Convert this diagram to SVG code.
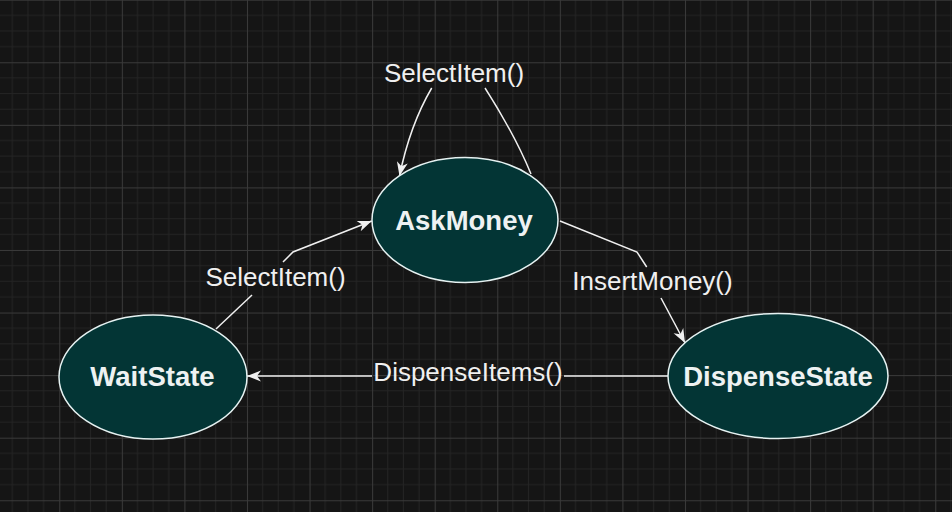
<svg xmlns="http://www.w3.org/2000/svg" width="952" height="512" viewBox="0 0 952 512">
<defs>
<pattern id="grid" patternUnits="userSpaceOnUse" x="-3.3" y="-0.3" width="62.57" height="62.57">
<path d="M15.64,0V62.57M31.28,0V62.57M46.93,0V62.57M0,15.64H62.57M0,31.28H62.57M0,46.93H62.57" stroke="#242424" stroke-width="1" fill="none"/>
<path d="M0.5,0V62.57M0,0.5H62.57" stroke="#3a3a3a" stroke-width="1" fill="none"/>
</pattern>
<marker id="arr" markerUnits="userSpaceOnUse" markerWidth="15" markerHeight="12" refX="14" refY="6" orient="auto" viewBox="0 0 15 12">
<path d="M0,0.5 L14,6 L0,11.5 L4,6 Z" fill="#f0f0f0"/>
</marker>
<style>
.node{fill:#033535;stroke:#e6f2f2;stroke-width:1.5}
.ntext{font-family:"Liberation Sans",Arial,sans-serif;font-weight:bold;font-size:27.5px;fill:#eef2f2;text-anchor:middle}
.edge{fill:none;stroke:#f0f0f0;stroke-width:1.5}
.lbl{font-family:"Liberation Sans",Arial,sans-serif;font-size:26px;fill:#f0f0f0;text-anchor:middle}
</style>
</defs>
<rect width="952" height="512" fill="#151515"/>
<rect width="952" height="512" fill="url(#grid)"/>
<g id="connectors">
<g id="e-loop">
<path class="edge" d="M485,88 Q515,135 531,174"/>
<path class="edge" d="M431.7,88 Q410,125 399.5,176" marker-end="url(#arr)"/>
<text class="lbl" x="454" y="82">SelectItem()</text>
</g>
<g id="e-wait-ask">
<path class="edge" d="M216,329 L252,295"/>
<path class="edge" d="M283,262 L293,252 L371.7,221" marker-end="url(#arr)"/>
<text class="lbl" x="275.5" y="286">SelectItem()</text>
</g>
<g id="e-ask-disp">
<path class="edge" d="M560,221 L637,252 L646.7,267"/>
<path class="edge" d="M661,298 L685,343" marker-end="url(#arr)"/>
<text class="lbl" x="652.5" y="290">InsertMoney()</text>
</g>
<g id="e-disp-wait">
<path class="edge" d="M668,376 L564,376"/>
<path class="edge" d="M372,376 L247,376" marker-end="url(#arr)"/>
<text class="lbl" x="468" y="381">DispenseItems()</text>
</g>
</g>
<g id="AskMoney">
<ellipse class="node" cx="465" cy="220" rx="93" ry="62.5"/>
<text class="ntext" x="464" y="230">AskMoney</text>
</g>
<g id="WaitState">
<ellipse class="node" cx="153" cy="377" rx="94" ry="62"/>
<text class="ntext" x="152.5" y="386">WaitState</text>
</g>
<g id="DispenseState">
<ellipse class="node" cx="778" cy="376" rx="110" ry="62.5"/>
<text class="ntext" x="778" y="386">DispenseState</text>
</g>
</svg>
